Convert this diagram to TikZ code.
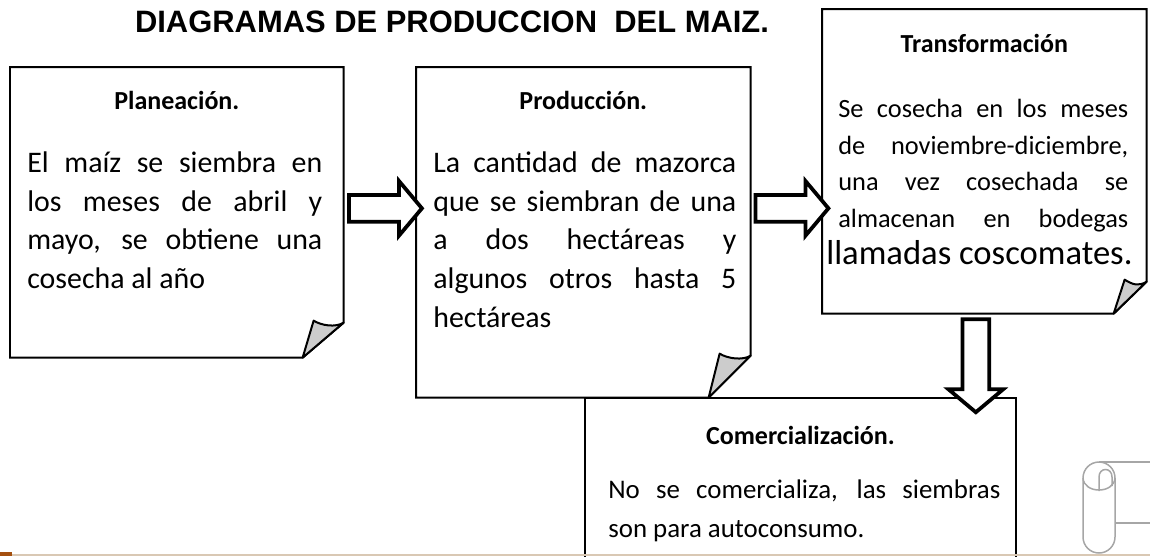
\documentclass[tikz,border=0pt]{standalone}
\usepackage{fontspec}
\setmainfont{Carlito}
\newfontfamily\headfont{Liberation Sans}
\usetikzlibrary{shapes.arrows, positioning, calc}
\definecolor{footline}{RGB}{217,200,180}
\definecolor{footmark}{RGB}{165,80,15}
\tolerance=10000
\hbadness=10000

\begin{document}
\begin{tikzpicture}[
    x=0.02cm, y=-0.02cm,
    paper/.style={rectangle, inner sep=0pt, anchor=north west},
    outline/.style={draw, line width=0.04cm},
    fold/.style={draw, fill=gray!40, line width=0.04cm, line join=round},
    title/.style={font=\fontsize{14.8}{18}\selectfont\bfseries, anchor=base, inner sep=0pt},
    body/.style={font=\fontsize{17}{22}\selectfont, align=justify, anchor=north west, inner sep=0pt},
    blockarrow/.style={single arrow, draw, fill=white, line width=0.075cm, inner xsep=0pt, inner ysep=0.23cm, single arrow head extend=0.28cm, single arrow tip angle=100, minimum height=1.46cm},
    scroll/.style={draw=gray!70, line width=0.03cm}
]
    \useasboundingbox (0,0) rectangle (1150,556);
    \clip (0,0) rectangle (1150,556);

    \node[font=\headfont\bfseries\fontsize{17.6}{20}\selectfont, anchor=base] (heading) at (452,32) {DIAGRAMAS DE PRODUCCION\ \ DEL MAIZ.};

    %% Boxes
    \node[paper, minimum width=6.66cm, minimum height=5.8cm] (plan) at (10,67) {};
    \node[paper, minimum width=6.68cm, minimum height=6.6cm] (prod) at (416,67) {};
    \node[paper, minimum width=6.48cm, minimum height=6.08cm] (trans) at (822,9) {};
    \node[paper, draw, line width=0.04cm, minimum width=8.62cm, minimum height=4cm] (comer) at (584,397) {};

    % Paper outlines with folded corner
    \foreach \n/\dx/\dy in {plan/41/35, prod/42/42, trans/33/32} {
        \draw[outline] (\n.north west) -- (\n.north east) -- ($(\n.south east)+(0,-\dy)$) -- ($(\n.south east)+(-\dx,0)$) -- (\n.south west) -- cycle;
        \draw[fold] ($(\n.south east)+(-\dx,0)$) -- ($(\n.south east)+(-\dx+11,-\dy-2)$) .. controls +(8,5) and +(-8,5) .. ($(\n.south east)+(0,-\dy)$) -- cycle;
    }

    % Titles
    \node[title] (plantitle) at ($(plan.north)+(0,42)$) {Planeación.};
    \node[title] (prodtitle) at ($(prod.north)+(0,42)$) {Producción.};
    \node[title] (transtitle) at ($(trans.north)+(0,43)$) {Transformación};
    \node[title] (comertitle) at ($(comer.north)+(0,47)$) {Comercialización.};

    % Texts
    \node[body, text width=5.9cm] (plantext) at ($(plan.north west)+(17,78)$) {\strut El maíz se siembra en\linebreak los meses de abril y\linebreak mayo, se obtiene una\linebreak cosecha al año};
    \node[body, text width=6.06cm] (prodtext) at ($(prod.north west)+(17,78)$) {\strut La cantidad de mazorca\linebreak que se siembran de una\linebreak a dos hectáreas y\linebreak algunos otros hasta 5\linebreak hectáreas};
    \node[body, text width=5.8cm, font=\fontsize{15}{21}\selectfont] (transtext) at ($(trans.north west)+(16,82)$) {\strut Se cosecha en los meses\linebreak de noviembre-diciembre,\linebreak una vez cosechada se\linebreak almacenan en bodegas\linebreak \hspace*{-0.24cm}\mbox{\fontsize{19.7}{21}\selectfont llamadas coscomates.}};
    \node[body, text width=7.84cm, font=\fontsize{15.3}{22}\selectfont] (comertext) at ($(comer.north west)+(24,74)$) {\strut No se comercializa, las siembras\linebreak son para autoconsumo.};

    %% Block arrows
    \node[blockarrow] (arrplan) at ($(plan.east)!.5!(prod.west)+(0,-14)$) {};
    \node[blockarrow] (arrprod) at ($(prod.east)!.5!(trans.west)+(0,11.5)$) {};
    \node[blockarrow, minimum height=1.86cm, rotate=-90] (arrtrans) at ($(trans.south)+(-8.5,46.5)$) {};

    % Scroll
    \draw[scroll, rounded corners=0.32cm] (1083,462) rectangle (1115,553);
    \draw[scroll] (1099,462) -- (1150,462);
    \draw[scroll] (1115,523) -- (1150,523);
    \draw[scroll] (1083,478) .. controls (1084,494) and (1114,494) .. (1115,478);
    \draw[scroll] (1099,491) -- (1099,477) .. controls (1099,467) and (1112,467) .. (1112,477) -- (1112,486);

    % Footer
    \draw[footline, line width=0.025cm] (0,555) -- (1150,555);
    \fill[footmark] (0,552) rectangle (12,556);
\end{tikzpicture}
\end{document}
